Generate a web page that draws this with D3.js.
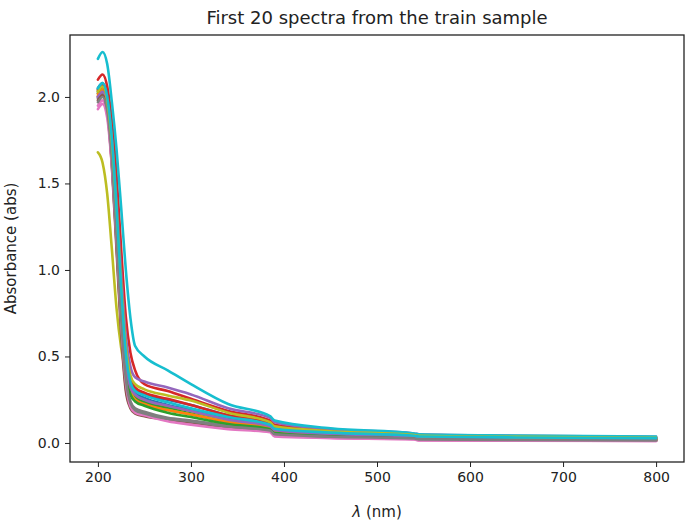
<!DOCTYPE html>
<html>
<head>
<meta charset="utf-8">
<script src="https://cdn.jsdelivr.net/npm/d3@7"></script>
<style>
  body { margin: 0; background: #fff; }
  text { font-family: "DejaVu Sans", sans-serif; }
</style>
</head>
<body>
<div id="my_chart"></div>
<script>

// wavelengths (nm) at which the spectra were read
var wavelengths = [200, 205, 210, 215, 220, 225, 230, 235, 240, 250, 275, 300, 340, 385, 390, 450, 540, 545, 650, 800];

// absorbance of the first 20 spectra, one array per spectrum
var s0  = [2.02, 2.05, 1.97, 1.72, 1.32, 0.88, 0.52, 0.36, 0.31, 0.28, 0.25, 0.22, 0.16, 0.115, 0.09, 0.065, 0.045, 0.04, 0.035, 0.03];
var s1  = [2.02, 2.05, 1.96, 1.70, 1.28, 0.82, 0.45, 0.31, 0.27, 0.245, 0.21, 0.185, 0.135, 0.095, 0.072, 0.052, 0.036, 0.031, 0.026, 0.022];
var s2  = [2.04, 2.07, 1.99, 1.74, 1.33, 0.86, 0.46, 0.30, 0.26, 0.235, 0.20, 0.17, 0.125, 0.09, 0.068, 0.05, 0.035, 0.03, 0.026, 0.022];
var s3  = [2.10, 2.13, 2.06, 1.86, 1.55, 1.12, 0.73, 0.52, 0.42, 0.34, 0.30, 0.255, 0.185, 0.13, 0.105, 0.075, 0.05, 0.045, 0.038, 0.032];
var s4  = [2.00, 2.03, 1.96, 1.75, 1.40, 0.98, 0.62, 0.44, 0.38, 0.355, 0.32, 0.28, 0.20, 0.145, 0.12, 0.08, 0.055, 0.05, 0.042, 0.036];
var s5  = [2.00, 2.03, 1.94, 1.62, 1.15, 0.66, 0.32, 0.21, 0.18, 0.16, 0.14, 0.125, 0.095, 0.07, 0.048, 0.035, 0.025, 0.02, 0.017, 0.014];
var s6  = [1.95, 1.98, 1.90, 1.62, 1.20, 0.72, 0.36, 0.22, 0.18, 0.165, 0.13, 0.11, 0.085, 0.065, 0.04, 0.03, 0.022, 0.016, 0.014, 0.012];
var s7  = [1.99, 2.02, 1.94, 1.66, 1.22, 0.74, 0.38, 0.24, 0.20, 0.18, 0.145, 0.13, 0.10, 0.075, 0.052, 0.038, 0.027, 0.022, 0.018, 0.015];
var s8  = [1.68, 1.62, 1.44, 1.12, 0.78, 0.55, 0.40, 0.30, 0.25, 0.22, 0.19, 0.165, 0.125, 0.09, 0.068, 0.048, 0.033, 0.028, 0.024, 0.02];
var s9  = [2.22, 2.26, 2.19, 1.97, 1.70, 1.36, 1.00, 0.72, 0.56, 0.50, 0.42, 0.34, 0.225, 0.155, 0.13, 0.085, 0.055, 0.05, 0.043, 0.037];
var s10 = [2.05, 2.08, 2.00, 1.76, 1.36, 0.90, 0.50, 0.34, 0.29, 0.26, 0.22, 0.19, 0.14, 0.10, 0.078, 0.056, 0.04, 0.035, 0.03, 0.026];
var s11 = [2.01, 2.04, 1.95, 1.68, 1.26, 0.80, 0.43, 0.29, 0.25, 0.225, 0.19, 0.165, 0.12, 0.085, 0.062, 0.046, 0.032, 0.027, 0.023, 0.019];
var s12 = [2.03, 2.06, 1.98, 1.72, 1.31, 0.84, 0.44, 0.28, 0.24, 0.215, 0.175, 0.15, 0.11, 0.08, 0.058, 0.043, 0.03, 0.025, 0.021, 0.018];
var s13 = [2.04, 2.07, 1.99, 1.76, 1.38, 0.92, 0.54, 0.37, 0.32, 0.29, 0.255, 0.22, 0.16, 0.115, 0.09, 0.063, 0.043, 0.038, 0.032, 0.027];
var s14 = [2.00, 2.03, 1.95, 1.70, 1.30, 0.85, 0.47, 0.32, 0.28, 0.25, 0.215, 0.185, 0.135, 0.097, 0.074, 0.053, 0.037, 0.032, 0.027, 0.023];
var s15 = [1.98, 2.01, 1.92, 1.60, 1.12, 0.63, 0.30, 0.20, 0.17, 0.155, 0.135, 0.12, 0.09, 0.068, 0.046, 0.034, 0.024, 0.019, 0.016, 0.013];
var s16 = [1.93, 1.96, 1.88, 1.60, 1.18, 0.70, 0.35, 0.21, 0.175, 0.16, 0.125, 0.105, 0.08, 0.062, 0.038, 0.028, 0.02, 0.015, 0.013, 0.011];
var s17 = [1.97, 2.00, 1.92, 1.64, 1.20, 0.72, 0.37, 0.23, 0.19, 0.17, 0.14, 0.125, 0.095, 0.072, 0.05, 0.036, 0.026, 0.021, 0.017, 0.014];
var s18 = [2.03, 2.06, 1.98, 1.74, 1.36, 0.92, 0.56, 0.39, 0.34, 0.31, 0.275, 0.245, 0.175, 0.12, 0.096, 0.068, 0.046, 0.041, 0.035, 0.03];
var s19 = [2.05, 2.08, 2.00, 1.76, 1.36, 0.90, 0.52, 0.35, 0.30, 0.275, 0.235, 0.20, 0.15, 0.105, 0.082, 0.06, 0.042, 0.037, 0.032, 0.028];

var spectra = [s0, s1, s2, s3, s4, s5, s6, s7, s8, s9, s10, s11, s12, s13, s14, s15, s16, s17, s18, s19];

// tick labels
var xTicks = [200, 300, 400, 500, 600, 700, 800];
var yTicks = [0.0, 0.5, 1.0, 1.5, 2.0];

// matplotlib tab10 cycle
var colors = ["#1f77b4", "#ff7f0e", "#2ca02c", "#d62728", "#9467bd",
              "#8c564b", "#e377c2", "#7f7f7f", "#bcbd22", "#17becf"];

// set the dimensions and margins of the graph
var margin = {top: 35, right: 6, bottom: 63, left: 70},
  width = 690 - margin.left - margin.right,
  height = 525 - margin.top - margin.bottom;

var svg = d3.select("#my_chart")
  .append("svg")
    .attr("width", width + margin.left + margin.right)
    .attr("height", height + margin.top + margin.bottom)
  .append("g")
    .attr("transform", "translate(" + margin.left + "," + margin.top + ")");

var x = d3.scaleLinear()
  .domain([170, 830])
  .range([0, width]);

var y = d3.scaleLinear()
  .domain([-0.11, 2.358])
  .range([height, 0]);

// lines
var line = d3.line()
  .x(function(d, i) { return x(wavelengths[i]); })
  .y(function(d) { return y(d); })
  .curve(d3.curveMonotoneX);

svg.append("g")
  .selectAll("path")
  .data(spectra)
  .enter()
  .append("path")
    .attr("d", line)
    .attr("fill", "none")
    .attr("stroke", function(d, i) { return colors[i % 10]; })
    .attr("stroke-width", 2.6)
    .attr("stroke-linejoin", "round")
    .attr("stroke-linecap", "round");

// x axis
var xAxis = svg.append("g")
  .attr("transform", "translate(0," + height + ")")
  .call(d3.axisBottom(x).tickValues(xTicks).tickSize(5).tickPadding(5).tickFormat(d3.format("d")));
xAxis.selectAll("text").style("font-size", "14px").attr("fill", "#222");
xAxis.selectAll("line").attr("stroke", "#222");
xAxis.select(".domain").remove();

// y axis
var yAxis = svg.append("g")
  .call(d3.axisLeft(y).tickValues(yTicks).tickSize(5).tickPadding(5).tickFormat(d3.format(".1f")));
yAxis.selectAll("text").style("font-size", "14px").attr("fill", "#222");
yAxis.selectAll("line").attr("stroke", "#222");
yAxis.select(".domain").remove();

// frame
svg.append("rect")
  .attr("x", 0)
  .attr("y", 0)
  .attr("width", width)
  .attr("height", height)
  .attr("fill", "none")
  .attr("stroke", "#222")
  .attr("stroke-width", 1.3);

// title
svg.append("text")
  .attr("x", width / 2)
  .attr("y", -11)
  .attr("text-anchor", "middle")
  .style("font-size", "18px")
  .attr("fill", "#222")
  .text("First 20 spectra from the train sample");

// x label
var xl = svg.append("text")
  .attr("x", width / 2)
  .attr("y", height + 55)
  .attr("text-anchor", "middle")
  .style("font-size", "15px")
  .attr("fill", "#222");
xl.append("tspan").style("font-style", "italic").text("λ");
xl.append("tspan").text(" (nm)");

// y label
svg.append("text")
  .attr("transform", "rotate(-90)")
  .attr("x", -height / 2)
  .attr("y", -54)
  .attr("text-anchor", "middle")
  .style("font-size", "15px")
  .attr("fill", "#222")
  .text("Absorbance (abs)");

</script>
</body>
</html>
